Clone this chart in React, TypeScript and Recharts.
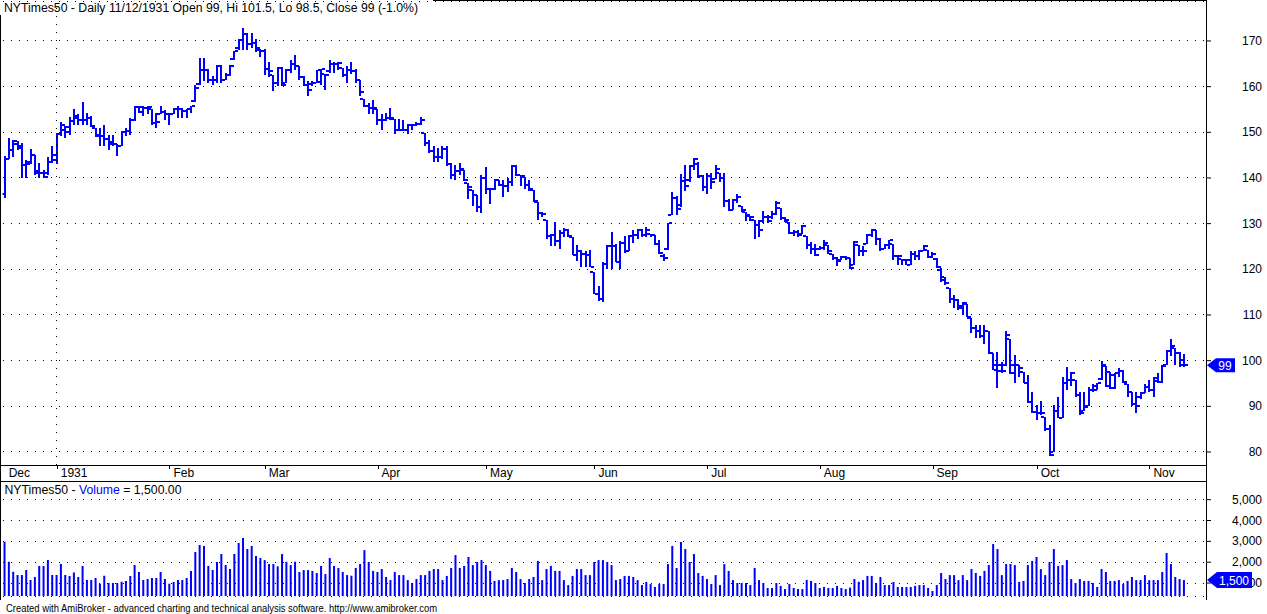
import { Bar, CartesianGrid, ComposedChart, ReferenceDot, ReferenceLine, XAxis, YAxis } from 'recharts'

// NYTimes50 daily bars, mid Dec 1930 .. 11/12/1931 (index = trading day)
const OPEN = [
  136.5, 144.2, 146.2, 147.5, 147.0, 142.9, 143.5, 145.0, 141.5, 141.0,
  141.0, 143.6, 144.0, 149.7, 150.5, 150.0, 152.4, 153.5, 152.8, 152.6,
  153.1, 150.9, 149.5, 149.1, 148.5, 147.5, 147.5, 147.1, 150.1, 150.2,
  152.6, 155.5, 154.5, 155.3, 155.0, 152.0, 154.0, 154.4, 153.9, 153.9,
  155.1, 155.0, 154.6, 155.0, 156.8, 160.5, 163.7, 163.7, 161.5, 161.4,
  164.5, 161.5, 162.6, 166.0, 168.5, 170.3, 171.6, 169.4, 169.6, 168.0,
  167.7, 163.9, 162.6, 160.7, 164.0, 160.7, 163.7, 165.0, 164.5, 162.1,
  160.4, 160.5, 160.9, 161.0, 162.8, 163.5, 165.0, 165.0, 164.1, 162.6,
  163.7, 163.4, 161.4, 157.3, 155.8, 155.3, 155.0, 152.6, 152.6, 153.1,
  152.9, 150.6, 150.4, 150.4, 151.5, 151.7, 151.9, 149.8, 147.6, 146.0,
  144.5, 144.7, 146.3, 143.1, 140.7, 141.6, 141.7, 138.8, 137.4, 136.3,
  133.6, 139.9, 137.5, 137.5, 139.6, 138.5, 138.2, 139.2, 142.6, 140.7,
  140.3, 138.5, 137.4, 134.8, 132.4, 130.8, 127.2, 127.5, 126.1, 128.0,
  128.6, 127.0, 123.1, 124.1, 123.4, 123.1, 119.5, 114.7, 113.4, 121.2,
  125.1, 125.1, 121.7, 125.8, 124.1, 127.2, 127.5, 128.6, 127.5, 127.7,
  127.5, 125.5, 123.0, 124.5, 132.0, 135.6, 134.0, 139.3, 139.5, 142.6,
  143.0, 140.5, 138.0, 140.4, 139.8, 141.0, 140.0, 134.9, 132.9, 135.1,
  133.9, 132.5, 131.6, 130.7, 129.8, 130.5, 131.5, 131.5, 132.2, 133.4,
  131.2, 130.3, 128.0, 128.1, 127.8, 127.4, 125.4, 124.5, 124.5, 124.7,
  125.4, 123.4, 122.5, 122.0, 122.7, 122.5, 121.0, 125.4, 123.9, 125.6,
  127.6, 128.5, 126.6, 124.5, 125.4, 125.6, 123.0, 122.3, 122.1, 121.0,
  123.4, 123.0, 123.9, 124.2, 122.8, 122.2, 119.8, 118.4, 115.8, 113.4,
  113.3, 112.0, 112.4, 109.3, 107.1, 106.6, 105.3, 106.4, 101.6, 99.0,
  97.8, 99.0, 104.7, 99.0, 99.1, 97.6, 95.2, 91.0, 88.8, 88.5,
  87.7, 85.0, 80.0, 89.0, 87.4, 95.2, 95.8, 95.8, 92.5, 89.0,
  90.1, 93.6, 94.5, 96.0, 98.8, 94.5, 94.0, 97.4, 97.8, 94.9,
  93.2, 90.5, 92.0, 93.0, 94.3, 93.6, 95.5, 95.4, 99.1, 102.2,
  102.7, 101.6, 99.0,
]
const HIGH = [
  144.8, 148.8, 148.4, 148.0, 147.7, 144.0, 146.4, 145.1, 143.3, 141.8,
  144.7, 146.9, 149.9, 152.2, 151.3, 153.4, 155.0, 154.1, 156.6, 154.2,
  153.5, 150.9, 150.9, 151.5, 149.5, 149.5, 147.5, 150.2, 150.9, 153.1,
  155.8, 155.7, 155.7, 155.7, 155.0, 154.2, 155.7, 154.8, 154.2, 155.3,
  155.7, 155.3, 155.0, 155.8, 160.3, 166.3, 166.3, 163.9, 162.3, 164.8,
  164.8, 163.0, 164.7, 167.8, 170.4, 172.8, 171.8, 171.8, 170.4, 168.2,
  168.2, 165.3, 162.6, 164.2, 164.2, 163.9, 165.8, 167.0, 164.5, 162.4,
  161.2, 161.2, 163.7, 163.9, 162.8, 165.9, 165.5, 165.4, 164.1, 164.5,
  165.3, 163.9, 161.4, 157.3, 156.4, 157.0, 155.0, 153.9, 154.2, 155.3,
  152.9, 152.9, 152.8, 151.9, 151.9, 152.2, 153.4, 149.8, 148.3, 146.9,
  146.5, 146.9, 146.9, 143.2, 142.8, 143.2, 141.7, 138.8, 137.4, 136.3,
  140.7, 142.3, 137.7, 139.7, 139.6, 139.6, 139.9, 142.8, 142.8, 140.7,
  140.3, 139.6, 137.4, 134.8, 132.6, 130.8, 127.7, 130.4, 128.6, 129.0,
  128.8, 127.0, 125.3, 124.2, 124.1, 124.2, 119.5, 116.4, 121.7, 125.3,
  128.2, 125.5, 126.1, 127.2, 127.5, 128.5, 128.8, 128.8, 129.2, 127.7,
  127.5, 126.4, 123.4, 130.2, 137.0, 136.0, 140.9, 142.9, 142.9, 144.4,
  143.4, 140.7, 141.0, 141.0, 142.9, 141.0, 141.0, 135.4, 135.4, 136.4,
  133.9, 132.5, 131.6, 130.7, 130.7, 132.7, 131.8, 132.7, 134.9, 133.4,
  131.5, 130.3, 128.5, 128.5, 129.6, 127.4, 125.9, 125.6, 125.0, 126.5,
  125.4, 123.4, 122.7, 123.0, 123.0, 122.5, 126.1, 125.4, 125.2, 127.8,
  128.8, 128.5, 126.9, 125.6, 126.5, 125.6, 123.2, 122.3, 122.3, 123.9,
  123.9, 124.2, 125.4, 124.2, 123.7, 122.5, 120.2, 118.4, 115.8, 114.4,
  113.6, 112.9, 112.4, 109.3, 107.8, 107.8, 107.8, 106.4, 101.6, 102.0,
  99.8, 106.4, 104.7, 101.2, 99.1, 97.6, 96.9, 93.2, 90.3, 91.2,
  87.7, 85.9, 90.3, 92.1, 96.5, 98.7, 97.6, 95.8, 93.2, 93.2,
  94.3, 94.9, 95.2, 100.0, 98.8, 97.6, 97.4, 98.3, 98.0, 94.9,
  93.2, 93.2, 93.2, 94.9, 95.8, 96.4, 97.4, 99.1, 102.3, 104.7,
  102.7, 101.8, 101.5,
]
const LOW = [
  135.6, 144.2, 144.7, 146.2, 140.0, 140.0, 143.1, 140.7, 140.0, 140.0,
  140.7, 143.3, 143.0, 149.1, 148.8, 149.5, 151.5, 151.5, 151.5, 151.5,
  151.2, 149.0, 146.9, 146.9, 146.1, 146.9, 144.9, 146.9, 149.1, 149.5,
  152.4, 154.2, 153.5, 153.9, 151.5, 150.9, 153.9, 152.6, 151.5, 153.9,
  153.1, 153.1, 153.1, 154.2, 156.6, 160.4, 161.2, 160.8, 160.4, 160.9,
  160.9, 161.5, 162.4, 165.9, 168.0, 168.0, 168.0, 168.5, 167.5, 166.5,
  162.6, 162.1, 159.0, 160.1, 160.1, 160.7, 163.0, 163.6, 161.4, 160.2,
  157.9, 160.1, 160.7, 160.4, 159.3, 163.0, 163.0, 163.6, 162.1, 160.9,
  162.8, 160.9, 158.0, 155.5, 154.1, 153.9, 151.5, 150.4, 152.4, 152.6,
  149.7, 150.2, 150.2, 149.7, 150.6, 151.3, 151.6, 147.0, 145.4, 143.4,
  143.4, 144.1, 142.6, 139.7, 139.6, 140.7, 139.4, 135.5, 133.9, 132.6,
  132.4, 136.5, 134.3, 137.4, 138.2, 135.9, 137.0, 138.2, 140.4, 138.2,
  137.5, 137.2, 134.8, 130.9, 131.4, 126.6, 125.0, 125.0, 124.4, 127.0,
  127.0, 123.1, 121.9, 120.4, 120.4, 120.4, 114.6, 113.1, 112.9, 120.0,
  120.0, 121.5, 120.0, 123.6, 123.9, 125.8, 126.6, 127.0, 127.0, 127.0,
  125.3, 123.4, 121.9, 124.2, 131.9, 131.9, 133.6, 137.1, 139.1, 141.7,
  140.0, 137.1, 136.4, 137.6, 139.8, 139.1, 133.6, 132.7, 132.9, 134.5,
  132.5, 130.5, 130.5, 126.6, 127.1, 130.1, 130.1, 131.0, 132.0, 130.9,
  130.3, 127.8, 127.4, 127.1, 127.8, 124.5, 123.4, 123.0, 124.2, 124.3,
  123.4, 122.0, 120.8, 122.0, 122.0, 120.1, 121.0, 123.0, 123.0, 125.6,
  127.1, 125.4, 123.9, 124.5, 124.5, 122.0, 121.0, 121.0, 121.0, 121.0,
  122.0, 122.0, 123.9, 122.5, 122.5, 120.2, 117.3, 116.6, 112.6, 111.5,
  111.1, 110.0, 109.5, 106.0, 104.9, 104.9, 103.6, 101.5, 98.0, 94.0,
  97.4, 98.8, 97.1, 95.0, 96.5, 95.0, 90.7, 88.6, 87.0, 88.1,
  84.7, 79.1, 79.9, 87.4, 87.4, 93.6, 94.5, 92.1, 88.1, 89.0,
  90.1, 93.2, 93.6, 95.8, 94.3, 93.9, 93.9, 96.5, 95.2, 92.1,
  90.1, 88.5, 91.5, 93.0, 93.2, 92.1, 95.2, 95.2, 99.1, 101.1,
  99.1, 98.5, 98.5,
]
const CLOSE = [
  144.2, 146.2, 148.0, 146.5, 142.9, 143.1, 145.1, 141.1, 141.0, 140.2,
  143.6, 145.1, 149.7, 151.5, 151.2, 152.4, 153.1, 152.8, 152.6, 153.1,
  151.3, 149.1, 149.1, 148.5, 147.8, 147.5, 147.1, 150.1, 150.2, 152.6,
  155.5, 155.5, 155.3, 155.5, 152.0, 152.2, 154.4, 153.9, 153.9, 155.1,
  155.0, 154.6, 155.0, 155.8, 159.6, 163.7, 163.7, 161.5, 161.4, 164.5,
  161.5, 162.6, 164.6, 167.7, 170.3, 171.6, 169.4, 169.6, 168.5, 167.7,
  163.9, 163.4, 160.7, 164.0, 160.4, 163.7, 165.0, 164.5, 162.1, 160.4,
  159.2, 160.9, 163.6, 163.9, 162.6, 165.0, 165.0, 165.2, 162.6, 163.7,
  163.4, 161.4, 158.8, 155.8, 155.3, 155.3, 152.6, 152.6, 153.1, 153.1,
  150.6, 150.4, 150.4, 151.5, 151.7, 151.9, 152.8, 147.6, 146.0, 144.5,
  144.7, 146.3, 143.1, 140.7, 141.6, 141.9, 139.6, 138.0, 136.3, 133.6,
  139.9, 137.5, 137.5, 139.6, 138.5, 138.2, 139.2, 142.6, 140.7, 140.4,
  138.5, 137.5, 135.0, 132.4, 132.1, 127.2, 127.5, 126.1, 128.0, 128.6,
  127.2, 123.1, 124.1, 123.4, 123.1, 120.6, 114.7, 113.4, 121.2, 125.1,
  125.1, 121.7, 125.8, 124.1, 127.2, 127.5, 128.6, 127.5, 128.6, 127.5,
  125.5, 123.5, 122.5, 130.2, 135.6, 133.1, 139.3, 138.2, 142.6, 144.2,
  140.5, 138.0, 140.4, 139.1, 142.0, 140.0, 134.9, 132.9, 135.1, 135.8,
  132.9, 132.0, 131.5, 129.8, 128.7, 131.5, 130.5, 132.2, 134.5, 131.2,
  130.7, 128.0, 128.1, 127.6, 129.4, 125.4, 124.5, 123.2, 124.7, 125.8,
  123.9, 122.5, 121.8, 122.7, 122.5, 120.3, 125.9, 123.9, 123.9, 127.6,
  128.5, 126.6, 124.5, 125.4, 126.4, 123.0, 123.0, 122.1, 122.1, 123.4,
  123.0, 123.9, 125.1, 122.7, 123.4, 120.4, 117.7, 117.1, 113.4, 113.3,
  111.5, 112.6, 109.6, 107.1, 106.6, 105.3, 106.4, 101.6, 98.0, 99.1,
  97.8, 105.6, 97.4, 99.1, 98.3, 95.2, 91.0, 88.8, 88.5, 88.5,
  85.0, 79.3, 89.0, 87.4, 95.2, 95.8, 97.2, 92.5, 88.5, 89.9,
  93.6, 93.6, 95.0, 99.1, 97.6, 96.9, 97.4, 97.8, 95.4, 93.2,
  90.5, 90.1, 93.0, 94.3, 93.6, 96.1, 95.4, 98.8, 102.2, 103.1,
  101.6, 100.1, 99.0,
]
const VOLUME = [
  2980, 2020, 1540, 1380, 1380, 1620, 1140, 1290, 1820, 1820,
  2100, 1380, 1380, 1910, 1380, 1340, 1500, 1290, 1820, 1140,
  1140, 1240, 970, 1350, 1000, 1000, 1000, 1060, 1100, 1340,
  1860, 1530, 1140, 1190, 1240, 1240, 1530, 1190, 970, 1050,
  1140, 1140, 1240, 1580, 2490, 2820, 2780, 1820, 1620, 2010,
  2390, 1860, 1670, 2390, 2920, 3160, 2630, 2780, 2300, 2200,
  2100, 1910, 1910, 1800, 2390, 2020, 1860, 2020, 1530, 1620,
  1620, 1580, 1480, 1820, 1430, 2200, 1820, 1720, 1530, 1380,
  1350, 1720, 1910, 2580, 2010, 1580, 1530, 1670, 1290, 1140,
  1530, 1380, 1380, 1140, 1000, 1190, 1380, 1380, 1580, 1670,
  1670, 1140, 1340, 1720, 2340, 1720, 1820, 2250, 1860, 2010,
  2100, 1860, 1580, 1100, 1140, 1140, 1190, 1720, 1530, 1190,
  1000, 1190, 1290, 2060, 1140, 1670, 1820, 1580, 1580, 1140,
  900, 1340, 1670, 1670, 1380, 1380, 2010, 2100, 2100, 2010,
  1860, 1140, 1190, 1340, 1340, 1290, 1140, 900, 1050, 950,
  810, 950, 950, 1910, 2780, 1720, 2970, 2630, 2010, 2390,
  1480, 1340, 1190, 950, 1380, 900, 1910, 1580, 1140, 1000,
  1000, 1000, 900, 1720, 1140, 1000, 760, 760, 1000, 860,
  710, 950, 760, 710, 710, 1150, 1100, 1000, 760, 810,
  760, 760, 860, 760, 710, 780, 1190, 1060, 1140, 1340,
  1340, 1000, 1290, 900, 900, 1050, 810, 810, 810, 810,
  860, 900, 900, 760, 620, 900, 1480, 1190, 1380, 1380,
  1140, 1380, 1140, 1670, 1480, 1340, 1580, 1860, 2870, 2630,
  1380, 1910, 1910, 1860, 1050, 1100, 1860, 2060, 2250, 1670,
  1380, 2010, 2630, 1820, 1860, 2100, 1190, 1000, 1190, 1100,
  1100, 1000, 810, 1670, 1530, 1100, 1100, 1140, 950, 1100,
  1290, 1140, 1140, 1380, 1140, 1140, 1140, 1530, 2440, 1910,
  1290, 1190, 1140,
]

// first trading day of each month (index) and its label
const MONTH_TICKS = [0, 12, 38, 60, 86, 111, 136, 162, 188, 214, 238, 264]
const MONTH_LABELS = ['Dec', '1931', 'Feb', 'Mar', 'Apr', 'May', 'Jun', 'Jul', 'Aug', 'Sep', 'Oct', 'Nov']
const YEAR_START = 12

const PRICE_TICKS = [80, 90, 100, 110, 120, 130, 140, 150, 160, 170]
const VOLUME_TICKS = [1000, 2000, 3000, 4000, 5000]

const TITLE = 'NYTimes50 - Daily 11/12/1931 Open 99, Hi 101.5, Lo 98.5, Close 99 (-1.0%)'
const VOLUME_LABEL = '1,500'
const CREDIT = 'Created with AmiBroker - advanced charting and technical analysis software. http://www.amibroker.com'

const BLUE = '#0000ff'
const FONT = '"Liberation Sans", Arial, sans-serif'
const X_MIN = -0.5
const X_MAX = 277.05
const PLOT_LEFT = 2.53
const PRICE_DOMAIN = [77.15, 178.75]
const VOLUME_DOMAIN = [376, 5897]

const rows = CLOSE.map((close, i) => ({
  i,
  open: OPEN[i],
  high: HIGH[i],
  low: LOW[i],
  close,
  volume: VOLUME[i],
}))
const last = rows[rows.length - 1]

function OhlcBar(props: any) {
  const { x, y, width, height, payload } = props
  if (!payload || height == null) return null
  const cx = Math.round(x + width / 2)
  const top = Math.min(y, y + height)
  const bot = Math.max(y, y + height)
  const span = payload.high - payload.low
  const at = (v: number) => (span === 0 ? top : top + ((payload.high - v) / span) * (bot - top))
  const yo = Math.round(at(payload.open))
  const yc = Math.round(at(payload.close))
  return (
    <g fill={BLUE} shapeRendering="crispEdges">
      <rect x={cx - 1} y={top} width={2} height={Math.max(bot - top, 1)} />
      <rect x={cx - 4} y={yo - 1} width={3} height={2} />
      <rect x={cx + 1} y={yc - 1} width={3} height={2} />
    </g>
  )
}

function MonthTick(props: any) {
  const { x, y, payload } = props
  const k = MONTH_TICKS.indexOf(payload.value)
  if (k < 0) return null
  return (
    <g>
      {k > 0 && (
        <line x1={x + 0.5} x2={x + 0.5} y1={y} y2={y + 4} stroke="#000" shapeRendering="crispEdges" />
      )}
      <text x={x + 4} y={y + 12} fontSize={12} fontFamily={FONT} fill="#000">
        {MONTH_LABELS[k]}
      </text>
    </g>
  )
}

function AxisLabel(props: any) {
  const { x, y, payload } = props
  return (
    <text x={x + 49} y={y + 4} textAnchor="end" fontSize={12} fontFamily={FONT} fill="#000">
      {payload.value.toLocaleString('en-US')}
    </text>
  )
}

function PriceMarker(props: any) {
  const { cx, cy } = props
  const pts = `${cx + 1},${cy} ${cx + 10},${cy - 7} ${cx + 29},${cy - 7} ${cx + 29},${cy + 7} ${cx + 10},${cy + 7}`
  return (
    <g>
      <polygon points={pts} fill={BLUE} />
      <text x={cx + 19} y={cy + 4.5} textAnchor="middle" fontSize={12} fontFamily={FONT} fill="#fff">
        {String(last.close)}
      </text>
    </g>
  )
}

function VolumeMarker(props: any) {
  const { cx, cy } = props
  const pts = `${cx + 1},${cy} ${cx + 11},${cy - 8} ${cx + 46},${cy - 8} ${cx + 46},${cy + 8} ${cx + 11},${cy + 8}`
  return (
    <g>
      <polygon points={pts} fill={BLUE} />
      <text x={cx + 28} y={cy + 4.5} textAnchor="middle" fontSize={12} fontFamily={FONT} fill="#fff">
        {VOLUME_LABEL}
      </text>
    </g>
  )
}

export default function App() {
  return (
    <div style={{ position: 'absolute', left: 0, top: 0, width: 1267, height: 614, background: '#fff' }}>
      <div style={{ position: 'absolute', left: 0, top: 0 }}>
        <ComposedChart width={1267} height={481} data={rows} margin={{ top: 1, right: 0, bottom: 0, left: PLOT_LEFT }}>
          <CartesianGrid vertical={false} stroke="#000" strokeDasharray="1 7" shapeRendering="crispEdges" />
          <XAxis
            dataKey="i"
            type="number"
            domain={[X_MIN, X_MAX]}
            allowDataOverflow
            ticks={MONTH_TICKS}
            interval={0}
            height={16}
            axisLine={false}
            tickLine={false}
            tickSize={0}
            tickMargin={0}
            tick={(p: any) => <MonthTick {...p} />}
          />
          <YAxis
            orientation="right"
            type="number"
            domain={PRICE_DOMAIN}
            allowDataOverflow
            ticks={PRICE_TICKS}
            interval={0}
            width={61}
            axisLine={false}
            tickLine={{ stroke: '#000' }}
            tickSize={5}
            tick={(p: any) => <AxisLabel {...p} />}
          />
          <ReferenceLine x={YEAR_START} stroke="#000" strokeDasharray="1 7" shapeRendering="crispEdges" />
          <Bar
            dataKey={(d: any) => [d.low, d.high]}
            barSize={4}
            shape={(p: any) => <OhlcBar {...p} />}
            isAnimationActive={false}
          />
          <ReferenceDot x={X_MAX} y={last.close} ifOverflow="visible" shape={(p: any) => <PriceMarker {...p} />} />
        </ComposedChart>
      </div>
      <div style={{ position: 'absolute', left: 0, top: 481 }}>
        <ComposedChart width={1267} height={119} data={rows} margin={{ top: 0, right: 0, bottom: 4, left: PLOT_LEFT }}>
          <CartesianGrid vertical={false} stroke="#000" strokeDasharray="1 7" shapeRendering="crispEdges" />
          <XAxis dataKey="i" type="number" domain={[X_MIN, X_MAX]} allowDataOverflow hide />
          <YAxis
            orientation="right"
            type="number"
            domain={VOLUME_DOMAIN}
            allowDataOverflow
            ticks={VOLUME_TICKS}
            interval={0}
            width={61}
            axisLine={false}
            tickLine={{ stroke: '#000' }}
            tickSize={5}
            tick={(p: any) => <AxisLabel {...p} />}
          />
          <Bar dataKey="volume" fill={BLUE} barSize={2} isAnimationActive={false} />
        </ComposedChart>
      </div>
      {/* last-volume marker sits on a layer of its own so it covers the axis label */}
      <div style={{ position: 'absolute', left: 0, top: 481 }}>
        <ComposedChart width={1267} height={119} data={rows} margin={{ top: 0, right: 61, bottom: 4, left: PLOT_LEFT }}>
          <XAxis dataKey="i" type="number" domain={[X_MIN, X_MAX]} allowDataOverflow hide />
          <YAxis type="number" domain={VOLUME_DOMAIN} allowDataOverflow hide />
          <ReferenceDot x={X_MAX} y={last.volume} ifOverflow="visible" shape={(p: any) => <VolumeMarker {...p} />} />
        </ComposedChart>
      </div>
      <svg
        width={1267}
        height={614}
        style={{ position: 'absolute', left: 0, top: 0, pointerEvents: 'none' }}
        fontFamily={FONT}
      >
        <g stroke="#000" strokeWidth={1} shapeRendering="crispEdges">
          <line x1={433} y1={0.5} x2={1206.5} y2={0.5} />
          <line x1={0.5} y1={15} x2={0.5} y2={600} />
          <line x1={1206.5} y1={0} x2={1206.5} y2={600} />
          <line x1={0} y1={465.5} x2={1206.5} y2={465.5} />
          <line x1={0} y1={481.5} x2={1206.5} y2={481.5} />
        </g>
        <text x={4} y={12} fontSize={12} fill="#000" textLength={414} lengthAdjust="spacingAndGlyphs">
          {TITLE}
        </text>
        <text x={4.5} y={494} fontSize={12} fill="#000" textLength={177} lengthAdjust="spacingAndGlyphs">
          NYTimes50 - <tspan fill={BLUE}>Volume</tspan> = 1,500.00
        </text>
        <text x={6} y={611.5} fontSize={10} fill="#000" textLength={431} lengthAdjust="spacingAndGlyphs">
          {CREDIT}
        </text>
      </svg>
    </div>
  )
}
